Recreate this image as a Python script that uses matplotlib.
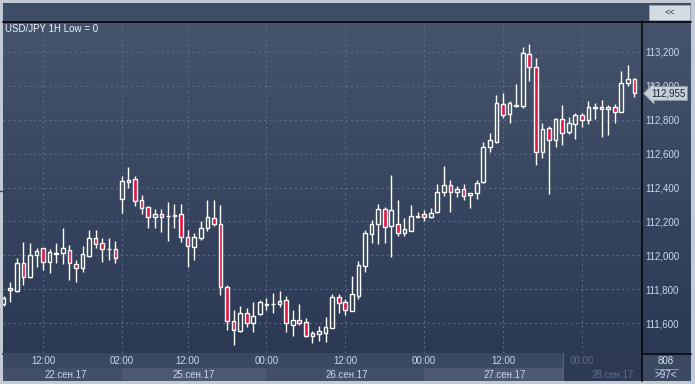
import numpy as np
import matplotlib
matplotlib.use("Agg")
import matplotlib.pyplot as plt
from matplotlib.patches import Rectangle
from matplotlib.transforms import blended_transform_factory

plt.rcParams["font.family"] = ["Liberation Sans", "DejaVu Sans"]

# USD/JPY hourly bars (97 bars shown)
opens = [111.712, 111.807, 111.791, 111.952, 111.870, 111.999, 112.041, 111.958, 112.010, 112.012,
         112.029, 111.950, 111.926, 111.997, 112.100, 112.070, 112.034, 112.037, 112.331, 112.435,
         112.450, 112.326, 112.283, 112.224, 112.242, 112.230, 112.234, 112.241, 112.107, 112.050,
         112.100, 112.159, 112.218, 112.183, 111.814, 111.614, 111.555, 111.661, 111.598, 111.651,
         111.708, 111.712, 111.710, 111.736, 111.590, 111.618, 111.604, 111.525, 111.533, 111.543,
         111.569, 111.752, 111.722, 111.673, 111.761, 111.939, 112.124, 112.184, 112.271, 112.173,
         112.184, 112.130, 112.144, 112.228, 112.244, 112.228, 112.257, 112.375, 112.415, 112.372,
         112.390, 112.356, 112.366, 112.434, 112.637, 112.670, 112.893, 112.832, 112.880, 112.881,
         113.188, 113.113, 112.612, 112.753, 112.681, 112.803, 112.726, 112.775, 112.826, 112.799,
         112.872, 112.874, 112.862, 112.875, 112.844, 113.015, 113.039]
highs = [111.760, 111.844, 111.982, 112.076, 112.070, 112.042, 112.044, 112.037, 112.070, 112.163,
         112.060, 111.972, 112.056, 112.149, 112.149, 112.100, 112.100, 112.084, 112.468, 112.520,
         112.468, 112.356, 112.291, 112.273, 112.273, 112.313, 112.301, 112.301, 112.152, 112.134,
         112.204, 112.326, 112.326, 112.297, 111.824, 111.677, 111.700, 111.687, 111.722, 111.736,
         111.746, 111.775, 111.789, 111.759, 111.677, 111.712, 111.631, 111.553, 111.582, 111.637,
         111.771, 111.771, 111.740, 111.877, 111.966, 112.149, 112.208, 112.301, 112.287, 112.474,
         112.326, 112.222, 112.297, 112.254, 112.267, 112.279, 112.418, 112.527, 112.444, 112.409,
         112.419, 112.370, 112.444, 112.667, 112.720, 112.946, 112.960, 112.912, 113.009, 113.231,
         113.247, 113.163, 112.779, 112.763, 112.813, 112.887, 112.815, 112.838, 112.842, 112.912,
         112.901, 112.917, 112.887, 112.893, 113.088, 113.123, 113.045]
lows = [111.700, 111.726, 111.785, 111.824, 111.864, 111.932, 111.913, 111.893, 111.953, 111.947,
        111.854, 111.840, 111.903, 111.988, 112.041, 111.963, 111.972, 111.952, 112.252, 112.400,
        112.293, 112.244, 112.159, 112.163, 112.140, 112.084, 112.163, 112.081, 111.932, 111.972,
        112.090, 112.144, 112.174, 111.765, 111.559, 111.470, 111.549, 111.578, 111.549, 111.645,
        111.677, 111.661, 111.696, 111.549, 111.525, 111.588, 111.520, 111.484, 111.496, 111.486,
        111.568, 111.657, 111.649, 111.671, 111.742, 111.903, 112.070, 112.067, 112.074, 111.992,
        112.114, 112.114, 112.143, 112.218, 112.200, 112.219, 112.251, 112.352, 112.257, 112.346,
        112.326, 112.277, 112.331, 112.425, 112.612, 112.661, 112.809, 112.783, 112.874, 112.868,
        113.031, 112.533, 112.573, 112.362, 112.637, 112.651, 112.716, 112.685, 112.756, 112.775,
        112.803, 112.700, 112.710, 112.779, 112.843, 113.000, 112.936]
closes = [111.748, 111.795, 111.953, 111.873, 112.000, 112.028, 111.958, 112.017, 112.013, 112.040,
          111.952, 111.922, 112.006, 112.100, 112.066, 112.035, 112.038, 111.982, 112.439, 112.445,
          112.322, 112.277, 112.224, 112.242, 112.224, 112.232, 112.238, 112.110, 112.056, 112.107,
          112.159, 112.224, 112.184, 111.814, 111.614, 111.559, 111.661, 111.598, 111.643, 111.722,
          111.712, 111.710, 111.730, 111.598, 111.618, 111.598, 111.523, 111.539, 111.551, 111.576,
          111.752, 111.720, 111.677, 111.769, 111.941, 112.130, 112.184, 112.271, 112.165, 112.267,
          112.130, 112.155, 112.234, 112.232, 112.228, 112.251, 112.371, 112.415, 112.372, 112.390,
          112.352, 112.366, 112.429, 112.637, 112.680, 112.897, 112.826, 112.897, 112.885, 113.192,
          113.110, 112.612, 112.747, 112.681, 112.805, 112.724, 112.779, 112.826, 112.799, 112.874,
          112.876, 112.862, 112.875, 112.844, 113.015, 113.039, 112.955]

time_ticks = [6, 18, 28, 40, 52, 64, 76, 88]
time_labels = ["12:00", "02:00", "12:00", "00:00", "12:00", "00:00", "12:00", "00:00"]
day_edges = [-0.1, 18, 40, 64, 88, 97.0]
date_pos = [9.5, 29.0, 52.2, 76.2, 92.7]
date_labels = ["22.сен.17", "25.сен.17", "26.сен.17", "27.сен.17", "28.сен.17"]
price_ticks = [111.6, 111.8, 112.0, 112.2, 112.4, 112.6, 112.8, 113.0, 113.2]
last_price = 112.955
bars_total, bars_shown = 808, 97

UP_EDGE = "#ffffff"; DOWN_FILL = "#e3123f"; GRID = "#5d6c87"; TXT = "#c9d6ec"

W, H = 695, 384
fig = plt.figure(figsize=(W / 100, H / 100), dpi=100, facecolor="#c3cad5")

# frame / background drawn in pixel coords
bg = fig.add_axes([0, 0, 1, 1]); bg.set_xlim(0, W); bg.set_ylim(H, 0); bg.axis("off")
bg.add_patch(Rectangle((3, 3), 688, 19, color="#3e4c66", lw=0))
grad = np.linspace([0.272, 0.325, 0.425], [0.173, 0.224, 0.333], 200)[:, None, :]
bg.imshow(grad, extent=(3, 691, 353, 22), aspect="auto", interpolation="bilinear")
bg.add_patch(Rectangle((641, 353), 50, 28, color="#3c4963", lw=0))
bg.plot([3, 691], [21.5, 21.5], color="black", lw=1.1)
bg.plot([3, 691], [353.5, 353.5], color="black", lw=1.1)
bg.plot([641.5, 641.5], [21.5, 381], color="black", lw=1.1)
bg.plot([0, 3], [191, 191], color="#3a4660", lw=1)
# "<<" button
bg.add_patch(Rectangle((649, 4.5), 41, 15, fc="#d5dbe3", ec="#98a2b0", lw=0.7))
bg.text(669.5, 12, "<<", ha="center", va="center", fontsize=6.5, color="#2c3444")
# bars counter
bg.text(666, 361.5, str(bars_total), ha="center", va="center", fontsize=7, color="#d6e0f0")
bg.plot([655, 678], [368.5, 368.5], color="#8d9cb5", lw=0.7)
bg.text(666, 375, f">{bars_shown}<", ha="center", va="center", fontsize=7, color="#d6e0f0")

# candles
ax = fig.add_axes([3 / W, (H - 353) / H, 638 / W, 331 / H])
ax.patch.set_visible(False)
for s in ax.spines.values():
    s.set_visible(False)
ax.set_xlim(-0.1, 97.0)
ax.set_ylim(111.423, 113.377)
ax.set_xticks(time_ticks); ax.set_xticklabels([])
ax.set_yticks(price_ticks)
ax.set_yticklabels([f"{v:.3f}".replace(".", ",") for v in price_ticks])
ax.yaxis.tick_right()
ax.tick_params(axis="y", length=0, pad=3, labelsize=7, labelcolor=TXT)
ax.tick_params(axis="x", length=0)
ax.grid(True, color=GRID, lw=0.8, ls=(0, (1.8, 2.8)))
ax.set_axisbelow(True)

bw = 0.56
for i, (o, h, l, c) in enumerate(zip(opens, highs, lows, closes)):
    top, bot = max(o, c), min(o, c)
    ax.plot([i, i], [top, h], color="white", lw=1.0, solid_capstyle="butt", zorder=3)
    ax.plot([i, i], [l, bot], color="white", lw=1.0, solid_capstyle="butt", zorder=3)
    fc = DOWN_FILL if c < o else "none"
    ax.add_patch(Rectangle((i - bw / 2, bot), bw, max(top - bot, 0.0005),
                           fc=fc, ec=UP_EDGE, lw=1.0, zorder=4))

ax.text(0.003, 0.993, "USD/JPY 1H Low = 0", transform=ax.transAxes, ha="left", va="top",
        fontsize=7, color="#eef2fa")

# last price tag
tr = blended_transform_factory(ax.transAxes, ax.transData)
ax.text(1.016, last_price, f"{last_price:.3f}".replace(".", ","), transform=tr, ha="left",
        va="center", fontsize=7, color="#1c2636", clip_on=False,
        bbox=dict(boxstyle="larrow,pad=0.22", fc="#c6ced8", ec="#8590a2", lw=0.6))

# bottom time / date strip
axb = fig.add_axes([3 / W, 3 / H, 638 / W, 28 / H], sharex=ax)
axb.set_ylim(0, 28); axb.axis("off")
axb.axhspan(13, 28, color="#3b4862", lw=0)
for k in range(len(date_labels)):
    col = "#4c5973" if k % 2 else "#434f68"
    axb.axvspan(day_edges[k], day_edges[k + 1], ymin=0, ymax=13 / 28, color=col, lw=0)
dim0 = 85.1
axb.axvspan(dim0, 97.0, color="#2e3a53", lw=0, zorder=2)
axb.axvline(dim0, color="#56627a", lw=0.8, zorder=3)
for x, t in zip(time_ticks, time_labels):
    axb.text(x, 20.5, t, ha="center", va="center", fontsize=7,
             color="#5f6d88" if x > dim0 else TXT, zorder=4)
for x, t in zip(date_pos, date_labels):
    axb.text(x, 6.5, t, ha="center", va="center", fontsize=7,
             color="#5f6d88" if x > dim0 else TXT, zorder=4)

fig.savefig("out.png", dpi=100, facecolor=fig.get_facecolor())
